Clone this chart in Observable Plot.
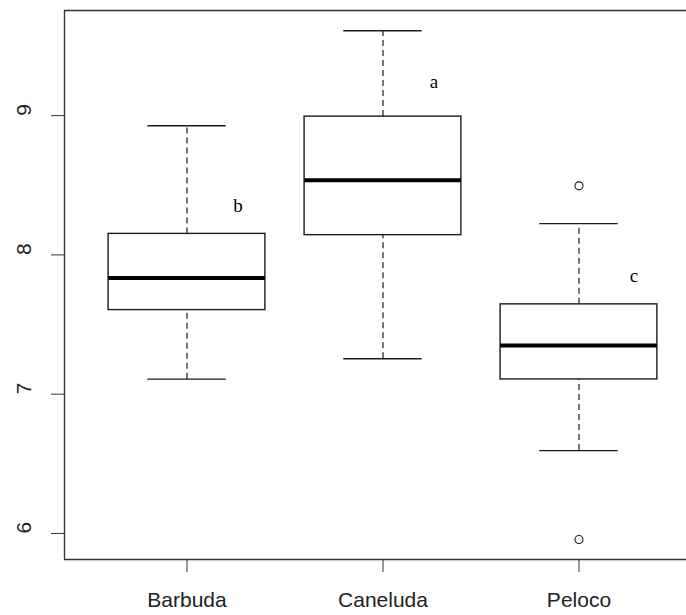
<!DOCTYPE html>
<html>
<head>
<meta charset="utf-8">
<script src="https://cdn.jsdelivr.net/npm/d3@7"></script>
<script src="https://cdn.jsdelivr.net/npm/@observablehq/plot@0.6"></script>
<style>
  html, body { margin: 0; padding: 0; background: #fff; overflow: hidden; }
</style>
</head>
<body>
<div id="chart"></div>
<script>
// ---- data ----
const categories = ["Barbuda", "Caneluda", "Peloco"];
const whiskerLow  = [7.108, 7.254, 6.595];
const q1          = [7.604, 8.142, 7.106];
const medians     = [7.835, 8.537, 7.350];
const q3          = [8.151, 8.993, 7.645];
const whiskerHigh = [8.928, 9.610, 8.225];
const outlierGroup = [3, 3];
const outlierValue = [8.496, 5.957];
const letters      = ["b", "a", "c"];
const letterX      = [1.26, 2.26, 3.28];
const letterY      = [8.35, 9.245, 7.85];
const yTicks = [6, 7, 8, 9];

const boxes = categories.map((c, i) => ({
  cat: c, pos: i + 1,
  lo: whiskerLow[i], q1: q1[i], med: medians[i], q3: q3[i], hi: whiskerHigh[i]
}));
const outliers = outlierGroup.map((g, i) => ({pos: g, v: outlierValue[i]}));
const notes = letters.map((t, i) => ({t, x: letterX[i], y: letterY[i]}));

const halfBox = 0.4, halfCap = 0.2;
const ink = "#1a1a1a";
const xDomain = [0.375, 3.62];
const yDomain = [5.813, 9.755];

const chart = Plot.plot({
  width: 686,
  height: 615,
  marginLeft: 64,
  marginRight: 0,
  marginTop: 10,
  marginBottom: 56,
  style: {background: "#fff", fontFamily: "'Liberation Sans', Arial, sans-serif"},
  x: {domain: xDomain, range: [64, 700]},
  y: {domain: yDomain},
  marks: [
    // frame (right side cropped in the reference)
    Plot.ruleY(yDomain, {stroke: "#333", strokeWidth: 1.4}),
    Plot.ruleX([xDomain[0]], {stroke: "#333", strokeWidth: 1.4}),
    // whiskers
    Plot.ruleX(boxes, {x: "pos", y1: "q3", y2: "hi", stroke: ink, strokeWidth: 1.2, strokeDasharray: "6,4"}),
    Plot.ruleX(boxes, {x: "pos", y1: "lo", y2: "q1", stroke: ink, strokeWidth: 1.2, strokeDasharray: "6,4"}),
    Plot.ruleY(boxes, {y: "hi", x1: d => d.pos - halfCap, x2: d => d.pos + halfCap, stroke: ink, strokeWidth: 1.4}),
    Plot.ruleY(boxes, {y: "lo", x1: d => d.pos - halfCap, x2: d => d.pos + halfCap, stroke: ink, strokeWidth: 1.4}),
    // boxes
    Plot.rect(boxes, {x1: d => d.pos - halfBox, x2: d => d.pos + halfBox, y1: "q1", y2: "q3", fill: "#fff", stroke: ink, strokeWidth: 1.4}),
    Plot.ruleY(boxes, {y: "med", x1: d => d.pos - halfBox, x2: d => d.pos + halfBox, stroke: "#000", strokeWidth: 4}),
    // outliers
    Plot.dot(outliers, {x: "pos", y: "v", r: 4, stroke: ink, fill: "#fff", strokeWidth: 1.1}),
    // letters
    Plot.text(notes, {x: "x", y: "y", text: "t", fontFamily: "'Liberation Serif', 'Times New Roman', serif", fontSize: 19, fill: "#000"}),
    // axes
    Plot.axisX([1, 2, 3], {tickSize: 13, tickPadding: 20, tickFormat: d => categories[d - 1], fontSize: 21, stroke: "#333", fill: "#222"}),
    Plot.axisY(yTicks, {tickSize: 13, tickFormat: () => "", stroke: "#333"}),
    Plot.text(yTicks, {y: d => d, text: d => String(d), frameAnchor: "left", dx: -40, rotate: -90, fontSize: 21, fill: "#222"})
  ]
});
document.getElementById("chart").appendChild(chart);
</script>
</body>
</html>
